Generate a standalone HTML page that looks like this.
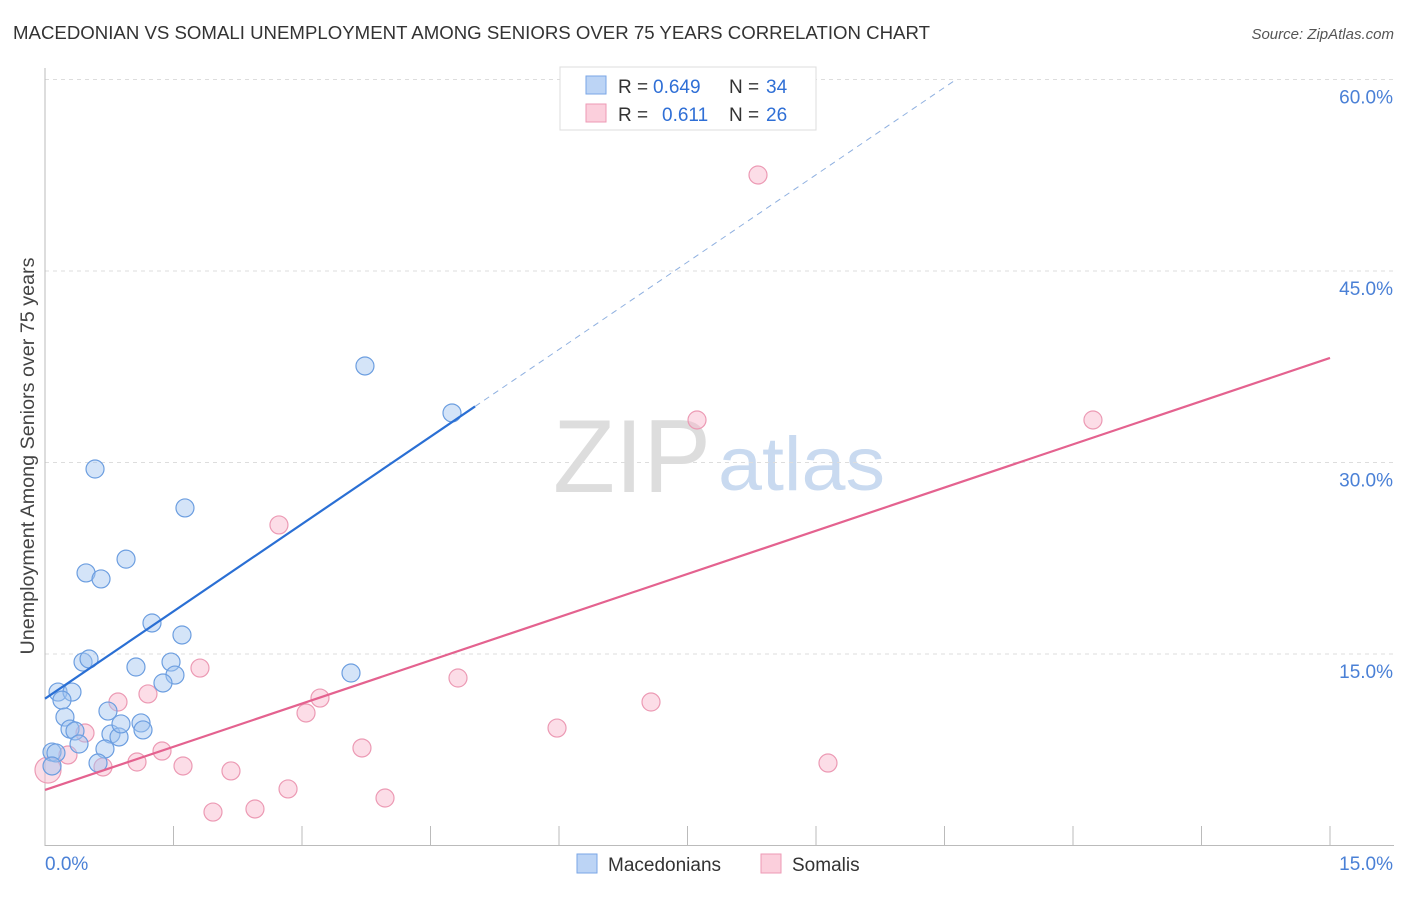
<!DOCTYPE html>
<html><head><meta charset="utf-8"><style>
body{margin:0;background:#fff;font-family:"Liberation Sans",sans-serif;}
svg text{font-family:"Liberation Sans",sans-serif;}
</style></head><body>
<svg id="chart" width="1406" height="892" xmlns="http://www.w3.org/2000/svg">
<text x="13" y="39" font-size="18.6" fill="#333" textLength="917" lengthAdjust="spacingAndGlyphs">MACEDONIAN VS SOMALI UNEMPLOYMENT AMONG SENIORS OVER 75 YEARS CORRELATION CHART</text>
<text x="1394" y="39" font-size="15" fill="#555" text-anchor="end" font-style="italic">Source: ZipAtlas.com</text>
<g>
<text x="553" y="492" font-size="104" fill="#ddd" font-family="Liberation Serif, serif" textLength="158" lengthAdjust="spacingAndGlyphs">ZIP</text>
<text x="718" y="490" font-size="76" fill="#c9daf0" textLength="167" lengthAdjust="spacingAndGlyphs">atlas</text>
</g>
<text transform="translate(34,456) rotate(-90)" font-size="19" fill="#444" text-anchor="middle" textLength="397" lengthAdjust="spacingAndGlyphs">Unemployment Among Seniors over 75 years</text>
<g id="grid"></g>
<g id="axes"></g>
<g id="marks"></g>
<g>
<rect x="560" y="67" width="256" height="63" fill="#fff" stroke="#ddd"/>
<rect x="586" y="76" width="20" height="18" fill="#bcd4f5" stroke="#7aa6e6"/>
<rect x="586" y="104" width="20" height="18" fill="#fbcfdc" stroke="#ee9ab5"/>
<text x="618" y="93" font-size="19" fill="#333">R =</text>
<text x="653" y="93" font-size="19" fill="#2f6fd6">0.649</text>
<text x="729" y="93" font-size="19" fill="#333">N =</text>
<text x="766" y="93" font-size="19" fill="#2f6fd6">34</text>
<text x="618" y="121" font-size="19" fill="#333">R =</text>
<text x="662" y="121" font-size="19" fill="#2f6fd6">0.611</text>
<text x="729" y="121" font-size="19" fill="#333">N =</text>
<text x="766" y="121" font-size="19" fill="#2f6fd6">26</text>
</g>
<g>
<rect x="577" y="854" width="20" height="19" fill="#bcd4f5" stroke="#7aa6e6"/>
<text x="608" y="871" font-size="19" fill="#333">Macedonians</text>
<rect x="761" y="854" width="20" height="19" fill="#fbcfdc" stroke="#ee9ab5"/>
<text x="792" y="871" font-size="19" fill="#333">Somalis</text>
</g>
</svg>
<script>
const blueX=[0.584,1.634,0.946,0.479,0.654,1.249,1.599,0.444,0.514,1.062,1.471,1.517,1.377,0.152,0.315,0.198,0.735,0.233,0.292,0.350,0.397,0.770,0.864,0.887,1.121,1.144,0.700,0.619,0.082,0.128,0.082,3.572,3.735,4.751];
const blueY=[29.49,26.44,22.43,21.35,20.88,17.43,16.49,14.37,14.61,13.98,14.37,13.35,12.73,12.02,12.02,11.39,10.53,10.06,9.12,8.97,7.95,8.73,8.50,9.52,9.60,9.05,7.56,6.46,7.32,7.25,6.23,13.51,37.56,33.88];
const pinkX=[8.323,7.611,12.233,2.731,1.809,4.821,3.210,1.202,0.852,7.074,3.047,0.467,0.268,5.977,3.700,1.366,1.074,0.677,1.611,9.140,2.171,2.837,3.969,1.961,2.451,0.035];
const pinkY=[52.52,33.33,33.33,25.11,13.90,13.12,11.55,11.87,11.24,11.24,10.38,8.81,7.09,9.20,7.64,7.40,6.54,6.15,6.23,6.46,5.84,4.43,3.72,2.62,2.86,5.91];
const blueFit=[11.5,4.56];
const pinkFit=[4.35,2.256];
const yTicks=[15,30,45,60];
const xTickLabels=["0.0%","15.0%"];
const NS="http://www.w3.org/2000/svg";
const sx=v=>45+v/15*1285, sy=v=>845.5-v/15*191.5;
function mk(tag,attrs,parent){const e=document.createElementNS(NS,tag);for(const k in attrs)e.setAttribute(k,attrs[k]);document.getElementById(parent).appendChild(e);return e;}
yTicks.forEach(t=>{
 const l=mk('line',{x1:45,x2:1394,y1:sy(t),y2:sy(t),stroke:'#ddd','stroke-dasharray':'4,4'},'grid');
 
 
 const tx=mk('text',{x:1393,y:sy(t)+24,'font-size':19,fill:'#4a80d6','text-anchor':'end'},'grid');
 tx.textContent=t.toFixed(1)+'%';
 
 
});
const ax=mk('line',{x1:45,x2:45,y1:68,y2:846,stroke:'#bbb'},'axes');


const bx=mk('line',{x1:45,x2:1394,y1:845.5,y2:845.5,stroke:'#bbb'},'axes');


for(let i=1;i<=10;i++){const t=mk('line',{x1:sx(i*1.5),x2:sx(i*1.5),y1:826,y2:846,stroke:'#bbb'},'axes');
 
 }
xTickLabels.forEach((s,i)=>{const t=mk('text',{x:i?1393:45,y:870,'font-size':19,fill:'#4a80d6','text-anchor':i?'end':'start'},'axes');t.textContent=s;
 
 });
pinkX.forEach((x,i)=>{const c=mk('circle',{cx:sx(x),cy:sy(pinkY[i]),r:i==25?13:9,fill:'rgba(248,180,202,0.45)',stroke:'#ec9ab4','stroke-width':1.2},'marks');
 
 });
blueX.forEach((x,i)=>{const c=mk('circle',{cx:sx(x),cy:sy(blueY[i]),r:9,fill:'rgba(160,195,240,0.45)',stroke:'#6c9ee0','stroke-width':1.2},'marks');
 
 });
const bEnd=5.02, bTop=(60-blueFit[0])/blueFit[1];
const b1=mk('line',{x1:sx(0),y1:sy(blueFit[0]),x2:sx(bEnd),y2:sy(blueFit[0]+blueFit[1]*bEnd),stroke:'#2a6fd4','stroke-width':2.2},'marks');


const b2=mk('line',{x1:sx(bEnd),y1:sy(blueFit[0]+blueFit[1]*bEnd),x2:sx(bTop),y2:sy(60),stroke:'#8fb0e0','stroke-width':1,'stroke-dasharray':'6,5'},'marks');


const p1=mk('line',{x1:sx(0),y1:sy(pinkFit[0]),x2:sx(15),y2:sy(pinkFit[0]+pinkFit[1]*15),stroke:'#e4628f','stroke-width':2.2},'marks');


</script>
</body></html>
